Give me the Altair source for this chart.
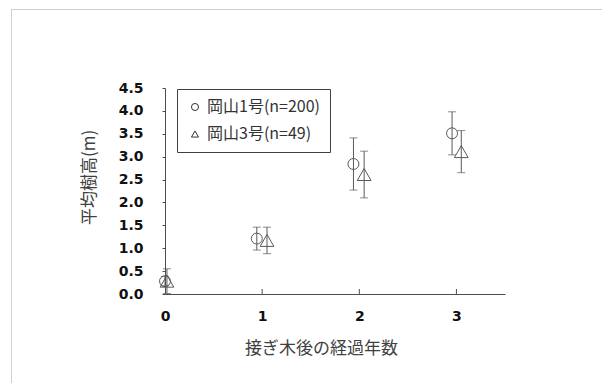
import altair as alt
import pandas as pd

# ---- data ----
series_names = ["岡山1号(n=200)", "岡山3号(n=49)"]
years_1 = [0.0, 0.945, 1.94, 2.955]
mean_1 = [0.28, 1.21, 2.84, 3.51]
err_1 = [0.10, 0.25, 0.57, 0.47]
years_3 = [0.02, 1.05, 2.05, 3.05]
mean_3 = [0.28, 1.17, 2.61, 3.11]
err_3 = [0.27, 0.29, 0.51, 0.46]
x_ticks = [0, 1, 2, 3]
y_ticks = [0.0, 0.5, 1.0, 1.5, 2.0, 2.5, 3.0, 3.5, 4.0, 4.5]

rows = []
for name, xs, ms, es in [(series_names[0], years_1, mean_1, err_1),
                         (series_names[1], years_3, mean_3, err_3)]:
    for x, m, e in zip(xs, ms, es):
        rows.append({"series": name, "year": x, "mean": m,
                     "lo": m - e, "hi": m + e})
df = pd.DataFrame(rows)
tick_df = pd.DataFrame({"t": x_ticks[1:]})

W, H = 340, 206
GRAY = "#595959"
AXIS = "#4d4d4d"
TXT = "#404040"

xscale = alt.Scale(domain=[0, 3.5], nice=False, zero=False)
yscale = alt.Scale(domain=[0, 4.5], nice=False)

xaxis = alt.Axis(values=x_ticks, format="d", title="接ぎ木後の経過年数",
                 ticks=False, tickSize=0, grid=False, domainColor=AXIS,
                 labelFlush=False, labelOverlap=False,
                 labelFont="DejaVu Sans", labelFontWeight="bold",
                 labelFontSize=14, labelColor="#111111", labelPadding=15,
                 titleFont="Noto Sans CJK JP", titleFontSize=17,
                 titleFontWeight="normal", titleColor=TXT,
                 titleX=156, titleY=54, titleAlign="center",
                 titleBaseline="middle")
yaxis = alt.Axis(values=y_ticks, format=".1f", title="平均樹高(m)",
                 grid=False, domainColor=AXIS, tickColor=AXIS, tickSize=3,
                 labelFlush=False, labelOverlap=False,
                 labelFont="DejaVu Sans", labelFontWeight="bold",
                 labelFontSize=14, labelColor="#111111", labelPadding=19,
                 titleFont="Noto Sans CJK JP", titleFontSize=17,
                 titleFontWeight="normal", titleColor=TXT,
                 titleX=-75.5, titleY=89, titleAlign="center",
                 titleBaseline="middle", titleAngle=270)

def X(field):
    return alt.X(field, scale=xscale, axis=xaxis)

def Y(field):
    return alt.Y(field, scale=yscale, axis=yaxis)

base = alt.Chart(df)

err_rule = base.mark_rule(color=GRAY, strokeWidth=1).encode(
    x=X("year:Q"), y=Y("lo:Q"), y2="hi:Q")

cap_hi = base.mark_tick(orient="horizontal", size=8, thickness=1, color=GRAY).encode(
    x=X("year:Q"), y=Y("hi:Q"))
cap_lo = base.mark_tick(orient="horizontal", size=8, thickness=1, color=GRAY).encode(
    x=X("year:Q"), y=Y("lo:Q"))

legend = alt.Legend(title=None, orient="none", legendX=12, legendY=1,
                    strokeColor="#404040", padding=10,
                    symbolSize=50, symbolStrokeWidth=1,
                    symbolStrokeColor="#333333", symbolFillColor="transparent",
                    labelFont="Noto Sans CJK JP", labelFontSize=16,
                    labelColor="#333333", labelOffset=4,
                    rowPadding=11, fillColor="white")
shape_enc = alt.Shape("series:N",
                      scale=alt.Scale(domain=series_names, range=["circle", "triangle-up"]),
                      legend=legend)

pts_1 = base.transform_filter(alt.datum.series == series_names[0]).mark_point(
    filled=False, strokeWidth=1, color=GRAY, opacity=1, size=120).encode(
    x=X("year:Q"), y=Y("mean:Q"), shape=shape_enc)
pts_3 = base.transform_filter(alt.datum.series == series_names[1]).mark_point(
    filled=False, strokeWidth=1, color=GRAY, opacity=1, size=190).encode(
    x=X("year:Q"), y=Y("mean:Q"), shape=shape_enc)

# inward x-axis ticks
xticks_in = alt.Chart(tick_df).mark_rule(color=AXIS, strokeWidth=1).encode(
    x=X("t:Q"), y=alt.value(H - 5), y2=alt.value(H))

# light gray frame of the picture
frame_top = alt.Chart(tick_df).mark_rule(color="#d0d0d0", strokeWidth=1).encode(
    x=alt.value(-154), x2=alt.value(460), y=alt.value(-78.5))
frame_left = alt.Chart(tick_df).mark_rule(color="#d0d0d0", strokeWidth=1).encode(
    x=alt.value(-153.5), y=alt.value(-79), y2=alt.value(320))

chart = alt.layer(err_rule, frame_top, frame_left, cap_hi, cap_lo, xticks_in, pts_1, pts_3).properties(
    width=W, height=H,
    autosize=alt.AutoSizeParams(type="none"),
    padding={"left": 165, "top": 88, "right": 97, "bottom": 89},
    background="white",
).configure_view(stroke=None)

chart.save("out.html", embed_options={"renderer": "svg", "actions": False})
